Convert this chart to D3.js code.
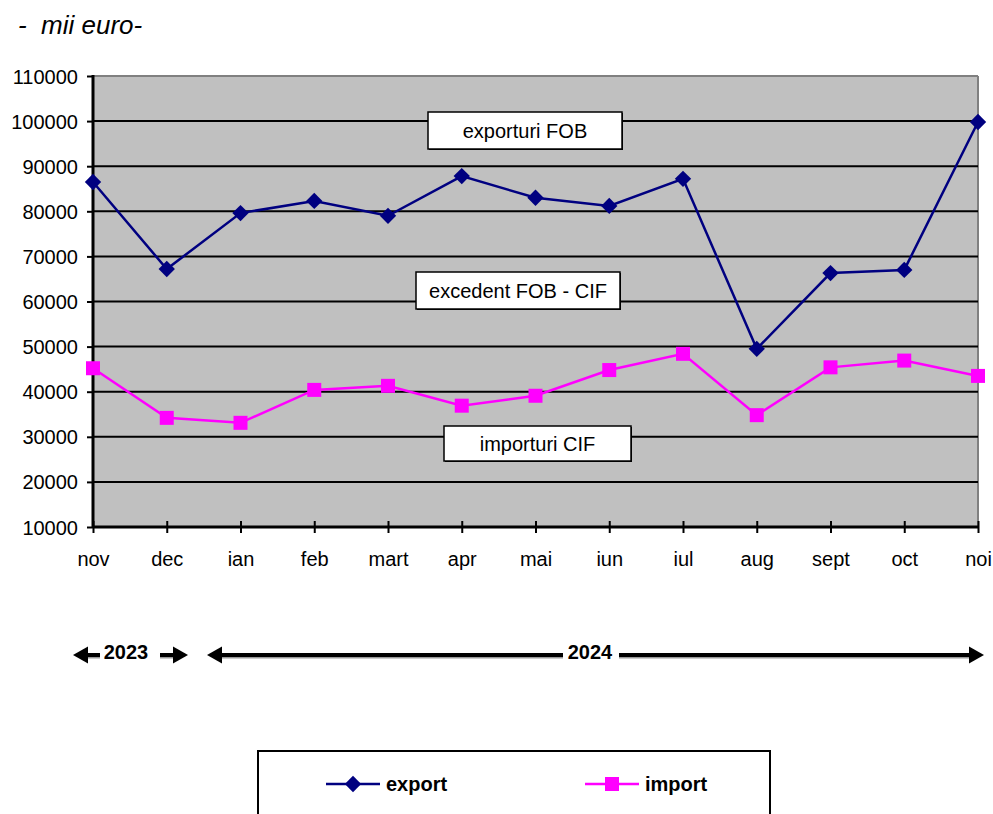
<!DOCTYPE html>
<html><head><meta charset="utf-8">
<script src="https://cdn.jsdelivr.net/npm/d3@7"></script>
<style>body{margin:0;background:#fff}svg{display:block}text{font-family:"Liberation Sans",Arial,sans-serif}</style>
</head><body>
<svg id="c" width="993" height="814"></svg>
<script>
const categories = ["nov","dec","ian","feb","mart","apr","mai","iun","iul","aug","sept","oct","noi"];
const exportValues = [86500,67200,79600,82300,79000,87800,83000,81200,87200,49500,66300,67000,99800];
const importValues = [45200,34200,33100,40400,41300,36900,39100,44800,48400,34800,45400,46900,43500];
const yTicks = [10000,20000,30000,40000,50000,60000,70000,80000,90000,100000,110000];

const svg = d3.select("#c");
const L = 93, R = 978, T = 76, B = 527;
const FS = 20;
const x = d3.scalePoint().domain(categories).range([L, R]).padding(0);
const y = d3.scaleLinear().domain([10000, 110000]).range([B, T]);

svg.append("text").attr("x", 18).attr("y", 34).attr("font-size", 26).attr("font-style", "italic")
  .attr("xml:space", "preserve").style("white-space", "pre").text("-  mii euro-");

svg.append("rect").attr("x", L).attr("y", T).attr("width", R - L).attr("height", B - T).attr("fill", "#C0C0C0");
svg.append("line").attr("x1", L).attr("x2", R).attr("y1", T).attr("y2", T).attr("stroke", "#808080").attr("stroke-width", 2);
svg.append("line").attr("x1", R).attr("x2", R).attr("y1", T).attr("y2", B).attr("stroke", "#808080").attr("stroke-width", 2);

// gridlines
svg.append("g").selectAll("line").data(yTicks.filter(v => v > 10000 && v < 110000)).join("line")
  .attr("x1", L).attr("x2", R).attr("y1", d => y(d)).attr("y2", d => y(d))
  .attr("stroke", "#000").attr("stroke-width", 2);

// y axis
const ya = svg.append("g").attr("transform", `translate(${L},0)`)
  .call(d3.axisLeft(y).tickValues(yTicks).tickFormat(d3.format("d")).tickSize(6).tickPadding(9));
ya.select(".domain").attr("stroke", "#000").attr("stroke-width", 3).attr("d", `M0,${T - 1}V${B}`);
ya.selectAll(".tick line").attr("stroke", "#000").attr("stroke-width", 2);
ya.selectAll(".tick text").attr("font-size", FS).attr("font-family", "Liberation Sans, Arial, sans-serif").attr("fill", "#000").attr("dy", "0.35em");

// x axis
const xa = svg.append("g").attr("transform", `translate(0,${B})`)
  .call(d3.axisBottom(x).tickSize(6).tickPadding(20));
xa.select(".domain").attr("stroke", "#000").attr("stroke-width", 3).attr("d", `M${L},0H${R}`);
xa.selectAll(".tick line").attr("stroke", "#000").attr("stroke-width", 2).attr("y1", -6).attr("y2", 6);
xa.selectAll(".tick text").attr("font-size", FS).attr("font-family", "Liberation Sans, Arial, sans-serif").attr("fill", "#000")
  .attr("y", 39).attr("dy", 0);

// label boxes
const boxes = [
  {t: "exporturi FOB", x0: 428, x1: 622, y0: 112, y1: 149},
  {t: "excedent FOB - CIF", x0: 416, x1: 620, y0: 272, y1: 309},
  {t: "importuri CIF", x0: 444, x1: 631, y0: 426, y1: 461}
];
boxes.forEach(b => {
  svg.append("rect").attr("x", b.x0 + 1).attr("y", b.y0 + 1).attr("width", b.x1 - b.x0).attr("height", b.y1 - b.y0)
    .attr("fill", "#000");
  svg.append("rect").attr("x", b.x0).attr("y", b.y0).attr("width", b.x1 - b.x0).attr("height", b.y1 - b.y0)
    .attr("fill", "#fff").attr("stroke", "#000").attr("stroke-width", 1.5);
  svg.append("text").attr("x", (b.x0 + b.x1) / 2).attr("y", (b.y0 + b.y1) / 2 + 7).attr("text-anchor", "middle")
    .attr("font-size", FS).text(b.t);
});

// lines
const lineGen = d3.line().x((d, i) => x(categories[i])).y(d => y(d));
svg.append("path").datum(importValues).attr("d", lineGen).attr("fill", "none").attr("stroke", "#FF00FF").attr("stroke-width", 2.5);
svg.append("path").datum(exportValues).attr("d", lineGen).attr("fill", "none").attr("stroke", "#000080").attr("stroke-width", 2.5);

const diamond = d3.symbol().type(d3.symbolDiamond2).size(170);
svg.append("g").selectAll("path").data(exportValues).join("path")
  .attr("d", diamond).attr("transform", (d, i) => `translate(${x(categories[i])},${y(d)})`).attr("fill", "#000080");
svg.append("g").selectAll("rect").data(importValues).join("rect")
  .attr("x", (d, i) => x(categories[i]) - 7).attr("y", d => y(d) - 7).attr("width", 14).attr("height", 14).attr("fill", "#FF00FF");

// year arrows
const ay = 655;
function arrowHead(xt, dir) {
  const w = 15, h = 8.5;
  svg.append("path").attr("d", `M${xt},${ay}L${xt + dir * w},${ay - h}L${xt + dir * w},${ay + h}Z`).attr("fill", "#000");
}
function seg(x0, x1) {
  svg.append("line").attr("x1", x0).attr("x2", x1).attr("y1", ay + 2).attr("y2", ay + 2).attr("stroke", "#999").attr("stroke-width", 3);
  svg.append("line").attr("x1", x0).attr("x2", x1).attr("y1", ay).attr("y2", ay).attr("stroke", "#000").attr("stroke-width", 4);
}
seg(86, 100); arrowHead(73, 1);
seg(160, 175); arrowHead(188, -1);
svg.append("text").attr("x", 126).attr("y", ay + 4).attr("text-anchor", "middle").attr("font-size", FS).attr("font-weight", "bold").text("2023");
seg(220, 563); arrowHead(207, 1);
seg(619, 970); arrowHead(984, -1);
svg.append("text").attr("x", 590).attr("y", ay + 4).attr("text-anchor", "middle").attr("font-size", FS).attr("font-weight", "bold").text("2024");

// legend
svg.append("rect").attr("x", 258).attr("y", 751).attr("width", 512).attr("height", 80).attr("fill", "#fff").attr("stroke", "#000").attr("stroke-width", 2);
const lg = [{n: "export", c: "#000080", x0: 326, s: "d"}, {n: "import", c: "#FF00FF", x0: 585, s: "s"}];
lg.forEach(l => {
  const ly = 784;
  svg.append("line").attr("x1", l.x0).attr("x2", l.x0 + 54).attr("y1", ly).attr("y2", ly).attr("stroke", l.c).attr("stroke-width", 2.5);
  if (l.s === "d") svg.append("path").attr("d", diamond).attr("transform", `translate(${l.x0 + 27},${ly})`).attr("fill", l.c);
  else svg.append("rect").attr("x", l.x0 + 20).attr("y", ly - 7).attr("width", 14).attr("height", 14).attr("fill", l.c);
  svg.append("text").attr("x", l.x0 + 60).attr("y", ly + 7).attr("font-size", FS).attr("font-weight", "bold").text(l.n);
});
</script>
</body></html>
